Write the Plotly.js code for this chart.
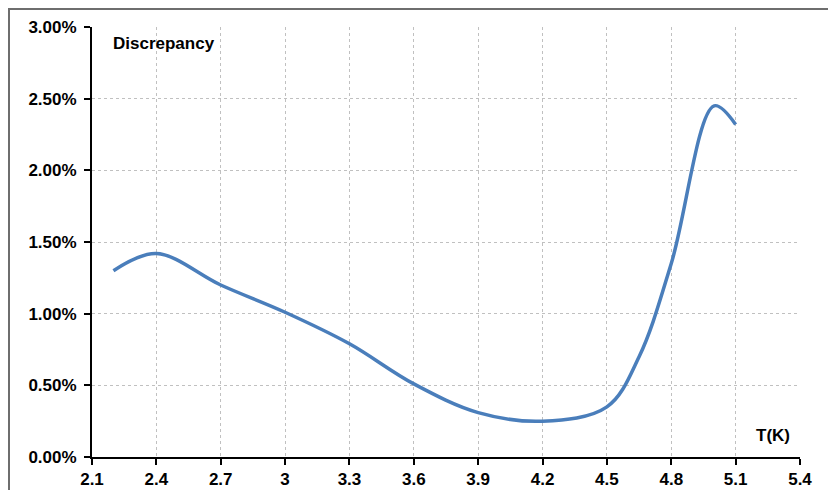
<!DOCTYPE html>
<html>
<head>
<meta charset="utf-8">
<script src="https://cdn.plot.ly/plotly-3.0.1.min.js"></script>
<style>
html,body{margin:0;padding:0;background:#fff;}
#wrap{position:relative;width:828px;height:490px;overflow:hidden;}
#chart{width:828px;height:490px;}
#frame{position:absolute;left:8px;top:8px;width:840px;height:500px;border-left:2px solid #6e6e6e;border-top:2px solid #6e6e6e;pointer-events:none;}
</style>
</head>
<body>
<div id="wrap"><div id="chart"></div><div id="frame"></div></div>
<script>
// Temperature T (K)
const temperature = [2.2, 2.4, 2.7, 3.0, 3.3, 3.6, 3.9, 4.2, 4.5, 4.65, 4.8, 5.0, 5.1];
// Discrepancy (%)
const discrepancy = [1.30, 1.42, 1.20, 1.01, 0.79, 0.51, 0.31, 0.25, 0.35, 0.70, 1.35, 2.45, 2.32];
const xTicks = [2.1, 2.4, 2.7, 3, 3.3, 3.6, 3.9, 4.2, 4.5, 4.8, 5.1, 5.4];
const xTickText = ['2.1','2.4','2.7','3','3.3','3.6','3.9','4.2','4.5','4.8','5.1','5.4'];
const yTicks = [0, 0.5, 1.0, 1.5, 2.0, 2.5, 3.0];
const yTickText = ['0.00%','0.50%','1.00%','1.50%','2.00%','2.50%','3.00%'];

const font = {family: 'Liberation Sans, Arial, sans-serif', size: 17, color: '#000', weight: 'bold'};

Plotly.newPlot('chart', [{
  x: temperature,
  y: discrepancy,
  type: 'scatter',
  mode: 'lines',
  line: {color: '#4a7ebb', width: 3.5, shape: 'spline', smoothing: 1},
  hoverinfo: 'none'
}], {
  width: 828, height: 490,
  margin: {l: 92, r: 28, t: 27, b: 33},
  paper_bgcolor: '#fff', plot_bgcolor: '#fff',
  showlegend: false,
  xaxis: {
    range: [2.1, 5.4], tickmode: 'array', tickvals: xTicks, ticktext: xTickText,
    showline: true, linecolor: '#000', linewidth: 2,
    ticks: 'outside', ticklen: 6, tickwidth: 2, tickcolor: '#000',
    showgrid: true, gridcolor: '#c0c0c0', griddash: 'dot', gridwidth: 1,
    zeroline: false, tickfont: font
  },
  yaxis: {
    range: [0, 3.0], tickmode: 'array', tickvals: yTicks, ticktext: yTickText,
    showline: true, linecolor: '#000', linewidth: 2,
    ticks: 'outside', ticklen: 6, tickwidth: 2, tickcolor: '#000',
    showgrid: true, gridcolor: '#c0c0c0', griddash: 'dot', gridwidth: 1,
    zeroline: false, tickfont: font, ticklabelstandoff: 4
  },
  annotations: [
    {text: 'Discrepancy', xref: 'paper', yref: 'paper', x: 0.027, y: 0.962,
     xanchor: 'left', yanchor: 'middle', showarrow: false, font: font},
    {text: 'T(K)', xref: 'paper', yref: 'paper', x: 0.988, y: 0.05,
     xanchor: 'right', yanchor: 'middle', showarrow: false, font: font}
  ]
}, {staticPlot: true});
</script>
</body>
</html>
